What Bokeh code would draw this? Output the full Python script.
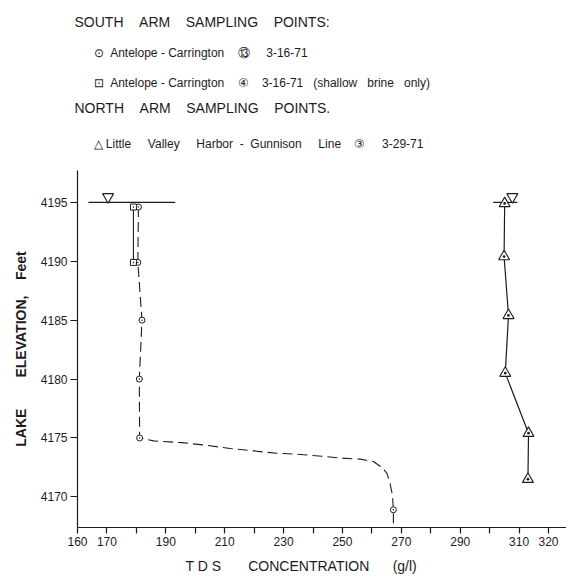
from bokeh.plotting import figure
from bokeh.models import Range1d, FixedTicker, Title
from bokeh.embed import file_html
from bokeh.resources import INLINE

# ---------------- data ----------------
# South arm, Antelope-Carrington (13), 3-16-71  (circles, dashed)
south13_tds = [180.7, 180.5, 181.9, 181.0, 181.1, 267.3]
south13_elev = [4194.6, 4189.9, 4185.0, 4180.0, 4175.0, 4168.9]
# South arm, Antelope-Carrington (4), 3-16-71 shallow brine only (squares, solid)
south4_tds = [179.0, 179.0]
south4_elev = [4194.6, 4189.9]
# North arm, Little Valley Harbor - Gunnison Line (3), 3-29-71 (triangles, solid)
north3_tds = [305.1, 304.9, 306.4, 305.3, 313.2, 313.0]
north3_elev = [4194.9, 4190.4, 4185.4, 4180.5, 4175.4, 4171.5]
# hand-drawn dashed curve from 4175 ft down to the deepest south-arm sample
curve_tds = [181.1, 185.8, 195.5, 203.0, 211.9, 219.8, 227.7, 235.6, 243.0,
             249.2, 256.0, 260.5, 263.4, 265.1, 266.2, 267.0, 267.3, 267.3]
curve_elev = [4175.0, 4174.75, 4174.6, 4174.4, 4174.1, 4173.9, 4173.7, 4173.6,
              4173.45, 4173.3, 4173.2, 4173.0, 4172.5, 4172.0, 4171.1, 4170.1,
              4168.9, 4167.4]
# lake surface
surface_elev = 4195.0
surface_south_tds = [163.7, 193.2]
surface_north_tds = [301.2, 309.4]
surface_marker_tds = [170.4, 307.7]

x_ticks = [160, 170, 180, 190, 200, 210, 220, 230, 240, 250, 260, 270, 280,
           290, 300, 310, 320]
x_tick_labels = ["160", "170", "", "190", "", "210", "", "230", "", "250", "",
                 "270", "", "290", "", "310", "320"]
y_ticks = [4170, 4175, 4180, 4185, 4190, 4195]

# ---------------- layout ----------------
W, H = 566, 587
X0, X1 = 160.0, 326.1
Y0, Y1 = 4167.4, 4197.7
LEFT, TOP, BOTTOM = 77, 170, 60
PYU = (H - BOTTOM - TOP) / (Y1 - Y0)
INK = "#1c1c1c"
FONT = "Liberation Sans"


def sp(n):  # a visible run of n spaces
    return " " + "\u00a0" * (n - 1)


p = figure(width=W, height=H, x_range=Range1d(X0, X1), y_range=Range1d(Y0, Y1),
           output_backend="svg", toolbar_location=None,
           min_border_left=LEFT, min_border_right=0, min_border_top=TOP,
           min_border_bottom=BOTTOM)
p.outline_line_color = None
p.grid.visible = False
p.background_fill_color = "white"
p.title.text = ""
p.title.standoff = 0

# axes
p.xaxis.ticker = FixedTicker(ticks=x_ticks)
p.xaxis.major_label_overrides = {t: l for t, l in zip(x_ticks, x_tick_labels)}
p.yaxis.ticker = FixedTicker(ticks=y_ticks)
for ax in (p.xaxis, p.yaxis):
    ax.axis_line_color = INK
    ax.axis_line_width = 1.2
    ax.major_tick_line_color = INK
    ax.major_tick_line_width = 1.2
    ax.minor_tick_line_color = None
    ax.major_tick_in = 0
    ax.major_label_text_font = FONT
    ax.major_label_text_font_size = "12px"
    ax.major_label_text_color = INK
p.xaxis.major_tick_out = 6
p.yaxis.major_tick_out = 7
p.xaxis.major_label_standoff = 3
p.yaxis.major_label_standoff = 3

p.yaxis.axis_label = "LAKE" + sp(8) + "ELEVATION," + sp(4) + "Feet"
p.yaxis.axis_label_text_font = FONT
p.yaxis.axis_label_text_font_size = "14px"
p.yaxis.axis_label_text_font_style = "bold"
p.yaxis.axis_label_text_color = INK
p.yaxis.axis_label_standoff = 9

# lines
s13_x = south13_tds[:5] + curve_tds[1:]
s13_y = south13_elev[:5] + curve_elev[1:]
p.line(x=s13_x, y=s13_y, line_color=INK, line_width=1.1, line_dash="10 5")
p.line(x=south4_tds, y=south4_elev, line_color=INK, line_width=1.1)
p.line(x=north3_tds, y=north3_elev, line_color=INK, line_width=1.2)
p.line(x=surface_south_tds, y=[surface_elev] * 2, line_color=INK, line_width=1.2)
p.line(x=surface_north_tds, y=[surface_elev] * 2, line_color=INK, line_width=1.2)

# markers
p.scatter(x=south13_tds, y=south13_elev, marker="circle_dot", size=6,
          fill_color="white", line_color=INK, line_width=1)
p.scatter(x=south4_tds, y=south4_elev, marker="square_dot", size=6,
          fill_color="white", line_color=INK, line_width=1)
p.scatter(x=north3_tds, y=north3_elev, marker="triangle_dot", size=11,
          fill_color="white", line_color=INK, line_width=1.1)
p.scatter(x=surface_marker_tds, y=[surface_elev + 5.5 / PYU] * 2,
          marker="inverted_triangle", size=11, fill_color="white",
          line_color=INK, line_width=1.1)


# header / key: stacked titles, nearest to the frame first
def head(text, offset, standoff, size="12px", valign="bottom", baseline="bottom"):
    p.add_layout(Title(text=text, align="left", offset=offset, standoff=standoff,
                       vertical_align=valign, text_baseline=baseline,
                       text_font=FONT, text_font_size=size,
                       text_font_style="normal", text_color=INK), "above")


head("\u25b3 Little" + sp(5) + "Valley" + sp(5) + "Harbor" + sp(2) + "-" + sp(2)
     + "Gunnison" + sp(5) + "Line" + sp(4) + "\u2462" + sp(5) + "3-29-71",
     16, 37.5, "12px", "middle", "middle")
head("NORTH" + sp(4) + "ARM" + sp(4) + "SAMPLING" + sp(4) + "POINTS.", -3, 1, "14px")
head("\u22a1" + sp(2) + "Antelope - Carrington" + sp(4) + "\u2463" + sp(4) + "3-16-71"
     + sp(3) + "(shallow" + sp(3) + "brine" + sp(3) + "only)", 16, 16)
head("\u2299" + sp(2) + "Antelope - Carrington" + sp(4) + "\u246c" + sp(5) + "3-16-71",
     16, 11)
head("SOUTH" + sp(4) + "ARM" + sp(4) + "SAMPLING" + sp(4) + "POINTS:", -3, 18, "14px")

# x axis title
p.add_layout(Title(text="T D S" + sp(7) + "CONCENTRATION" + sp(6) + "(g/l)",
                   align="left", offset=108, standoff=18, vertical_align="top",
                   text_baseline="top", text_font=FONT, text_font_size="14px",
                   text_font_style="normal", text_color=INK), "below")

open("out.html", "w").write(file_html(p, INLINE))
